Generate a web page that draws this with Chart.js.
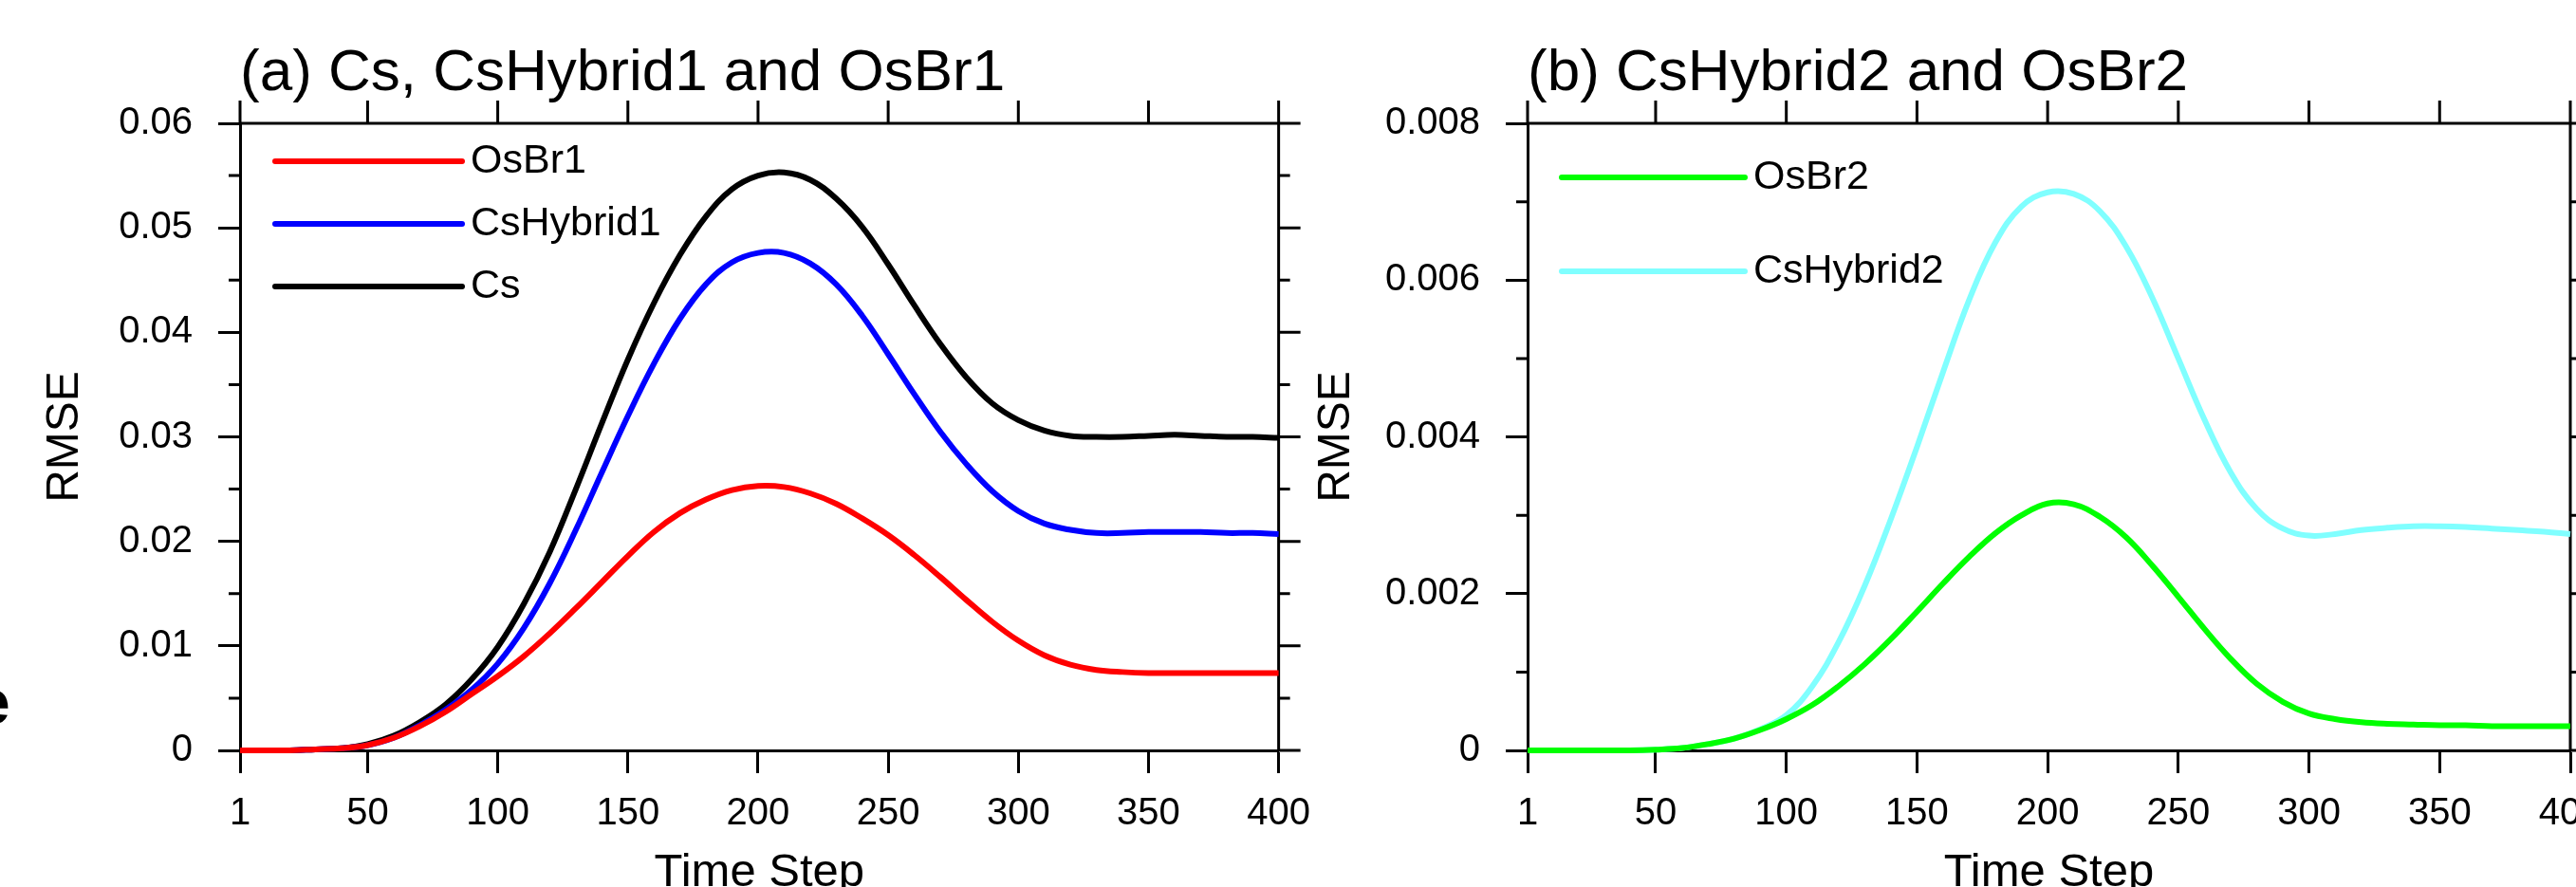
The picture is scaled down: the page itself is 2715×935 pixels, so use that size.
<!DOCTYPE html>
<html>
<head>
<meta charset="utf-8">
<script src="https://cdn.jsdelivr.net/npm/chart.js@4.4.1/dist/chart.umd.min.js"></script>
<style>
  html, body { margin: 0; padding: 0; background: #fff; overflow: hidden; width: 2715px; height: 935px; }
  .panel { position: absolute; top: 0; height: 1000px; }
  #panelA { left: 0; width: 1400px; }
  #panelB { left: 1360px; width: 1440px; }
  #cutGlyph { position: absolute; left: -26px; top: 707px; font: bold 66px 'Liberation Sans', Arial, sans-serif; line-height: 66px; }
</style>
</head>
<body>
<div id="cutGlyph">e</div>
<div class="panel" id="panelA"><canvas id="chartA"></canvas></div>
<div class="panel" id="panelB"><canvas id="chartB"></canvas></div>
<script>
// time axis samples (every 10 steps)
const timeSteps = [1, 10, 20, 30, 40, 50, 60, 70, 80, 90, 100, 110, 120, 130, 140, 150, 160, 170, 180, 190, 200,
  210, 220, 230, 240, 250, 260, 270, 280, 290, 300, 310, 320, 330, 340, 350, 360, 370, 380, 390, 400];

// panel (a)
const osBr1 = [0, 0, 0, 0.0001, 0.0002, 0.0005, 0.0012, 0.0023, 0.0037, 0.0054, 0.0071, 0.0090, 0.0112, 0.0136, 0.0161,
  0.0186, 0.0209, 0.0227, 0.0240, 0.0249, 0.0253, 0.0252, 0.0246, 0.0236, 0.0222, 0.0206, 0.0187, 0.0166, 0.0144,
  0.0123, 0.0105, 0.0091, 0.0082, 0.0077, 0.0075, 0.0074, 0.0074, 0.0074, 0.0074, 0.0074, 0.0074];
const csHybrid1 = [0, 0, 0, 0.0001, 0.0002, 0.0005, 0.0012, 0.0024, 0.0039, 0.0058, 0.0083, 0.0117, 0.0160, 0.0211,
  0.0266, 0.0320, 0.0370, 0.0413, 0.0446, 0.0467, 0.0476, 0.0476, 0.0466, 0.0446, 0.0416, 0.0379, 0.0341, 0.0305,
  0.0274, 0.0248, 0.0229, 0.0217, 0.0211, 0.0208, 0.0208, 0.0209, 0.0209, 0.0209, 0.0208, 0.0208, 0.0207];
const cs = [0, 0, 0, 0.0001, 0.0002, 0.0006, 0.0014, 0.0027, 0.0044, 0.0068, 0.0099, 0.0140, 0.0190, 0.0250, 0.0313,
  0.0374, 0.0428, 0.0474, 0.0511, 0.0537, 0.0550, 0.0553, 0.0546, 0.0528, 0.0501, 0.0465, 0.0426, 0.0389, 0.0357,
  0.0332, 0.0316, 0.0306, 0.0301, 0.0300, 0.0300, 0.0301, 0.0302, 0.0301, 0.0300, 0.0300, 0.0299];

// panel (b)
const osBr2 = [0, 0, 0, 0, 0, 0.00001, 0.00003, 0.00008, 0.00015, 0.00026, 0.00040, 0.00058, 0.00082, 0.00110, 0.00142,
  0.00177, 0.00213, 0.00247, 0.00277, 0.00300, 0.00315, 0.00314, 0.00298, 0.00272, 0.00236, 0.00196, 0.00155,
  0.00117, 0.00085, 0.00062, 0.00047, 0.00040, 0.00036, 0.00034, 0.00033, 0.00032, 0.00032, 0.00031, 0.00031,
  0.00031, 0.00031];
const csHybrid2 = [0, 0, 0, 0, 0, 0.00001, 0.00003, 0.00008, 0.00015, 0.00027, 0.00045, 0.00082, 0.00138, 0.00210,
  0.00295, 0.00387, 0.00483, 0.00575, 0.00648, 0.00694, 0.00712, 0.00710, 0.00688, 0.00643, 0.00578, 0.00500,
  0.00422, 0.00355, 0.00308, 0.00283, 0.00274, 0.00276, 0.00281, 0.00284, 0.00286, 0.00286, 0.00285, 0.00283,
  0.00281, 0.00279, 0.00276];

// tick labels
const xTickValues = [1, 50, 100, 150, 200, 250, 300, 350, 400];
const yTickValuesA = [0, 0.01, 0.02, 0.03, 0.04, 0.05, 0.06];
const yTickValuesB = [0, 0.002, 0.004, 0.006, 0.008];

Chart.defaults.font.family = "'Liberation Sans', Arial, sans-serif";
Chart.defaults.color = '#000';

// top / right frame, mirrored ticks and minor ticks
const frameTicks = {
  id: 'frameTicks',
  beforeDatasetsDraw(chart) {
    const { ctx, chartArea: a, scales } = chart;
    const xs = scales.x, ys = scales.y;
    const seg = (x1, y1, x2, y2) => { ctx.moveTo(x1, y1); ctx.lineTo(x2, y2); };
    ctx.save();
    ctx.strokeStyle = '#000';
    ctx.lineWidth = 3;
    ctx.beginPath();
    seg(a.left, a.top, a.right + 1.5, a.top);
    seg(a.right, a.top, a.right, a.bottom);
    xs.ticks.forEach(t => {
      const p = xs.getPixelForValue(t.value);
      seg(p, a.top, p, a.top - 24);
    });
    ys.ticks.forEach(t => {
      const p = ys.getPixelForValue(t.value);
      seg(a.right, p, a.right + 23, p);
    });
    for (let i = 0; i < ys.ticks.length - 1; i++) {
      const p = ys.getPixelForValue((ys.ticks[i].value + ys.ticks[i + 1].value) / 2);
      seg(a.left - 12, p, a.left, p);
      seg(a.right, p, a.right + 12, p);
    }
    ctx.stroke();
    ctx.restore();
  }
};

const panelTitle = {
  id: 'panelTitle',
  afterDraw(chart, args, opts) {
    const { ctx, chartArea: a } = chart;
    ctx.save();
    ctx.font = "62px 'Liberation Sans', Arial, sans-serif";
    ctx.fillStyle = '#000';
    ctx.textAlign = 'left';
    ctx.textBaseline = 'alphabetic';
    ctx.fillText(opts.text, a.left, a.top - 35);
    ctx.restore();
  }
};

// NCL-style legend: line sample followed by its label, inside the plot
const lineLegend = {
  id: 'lineLegend',
  afterDatasetsDraw(chart, args, opts) {
    const { ctx, chartArea: a } = chart;
    ctx.save();
    ctx.font = "43px 'Liberation Sans', Arial, sans-serif";
    ctx.textBaseline = 'middle';
    chart.data.datasets.forEach((ds, i) => {
      const y = a.top + opts.y0 + i * opts.dy;
      ctx.strokeStyle = ds.borderColor;
      ctx.lineWidth = 6;
      ctx.lineCap = 'round';
      ctx.beginPath();
      ctx.moveTo(a.left + opts.x0, y);
      ctx.lineTo(a.left + opts.x1, y);
      ctx.stroke();
      ctx.fillStyle = '#000';
      ctx.fillText(ds.label, a.left + opts.x1 + 9, y);
    });
    ctx.restore();
  }
};

function buildChart(canvasId, cfg) {
  const datasets = cfg.series.map(s => ({
    label: s.label,
    data: timeSteps.map((t, i) => ({ x: t, y: s.values[i] })),
    borderColor: s.color,
    borderWidth: 6,
    pointRadius: 0,
    tension: 0.4,
    clip: false
  }));

  return new Chart(document.getElementById(canvasId), {
    type: 'line',
    data: { datasets: datasets },
    options: {
      responsive: true,
      maintainAspectRatio: false,
      animation: false,
      layout: { padding: { top: 130, left: 0, right: cfg.padRight, bottom: 0 } },
      plugins: {
        legend: { display: false },
        tooltip: { enabled: false },
        panelTitle: { text: cfg.title },
        lineLegend: cfg.legend
      },
      scales: {
        x: {
          type: 'linear',
          min: 1,
          max: 400,
          afterBuildTicks: (scale) => { scale.ticks = xTickValues.map(v => ({ value: v })); },
          afterFit: (scale) => { scale.height = 209; },
          grid: { drawOnChartArea: false, tickLength: 24, tickWidth: 3, tickColor: '#000', color: '#000' },
          border: { color: '#000', width: 3 },
          ticks: { font: { size: 40 }, padding: 19, autoSkip: false, maxRotation: 0 },
          title: { display: true, text: 'Time Step', font: { size: 49 }, padding: { top: 0, bottom: 50 } }
        },
        y: {
          min: 0,
          max: cfg.yTicks[cfg.yTicks.length - 1],
          afterBuildTicks: (scale) => { scale.ticks = cfg.yTicks.map(v => ({ value: v })); },
          afterFit: (scale) => { scale.width = cfg.yAxisWidth; },
          grid: { drawOnChartArea: false, tickLength: 23, tickWidth: 3, tickColor: '#000', color: '#000' },
          border: { color: '#000', width: 3 },
          ticks: { font: { size: 40 }, padding: 27, callback: (v) => String(v) },
          title: { display: true, text: 'RMSE', font: { size: 48 }, padding: { top: cfg.yTitlePad, bottom: 0 } }
        }
      }
    },
    plugins: [frameTicks, panelTitle, lineLegend]
  });
}

buildChart('chartA', {
  title: '(a) Cs, CsHybrid1 and OsBr1',
  series: [
    { label: 'OsBr1', values: osBr1, color: '#ff0000' },
    { label: 'CsHybrid1', values: csHybrid1, color: '#0000ff' },
    { label: 'Cs', values: cs, color: '#000000' }
  ],
  yTicks: yTickValuesA,
  yAxisWidth: 253,
  padRight: 48,
  yTitlePad: 40,
  legend: { x0: 37, x1: 234, y0: 40, dy: 66 }
});

buildChart('chartB', {
  title: '(b) CsHybrid2 and OsBr2',
  series: [
    { label: 'OsBr2', values: osBr2, color: '#00ff00' },
    { label: 'CsHybrid2', values: csHybrid2, color: '#80ffff' }
  ],
  yTicks: yTickValuesB,
  yAxisWidth: 250,
  padRight: 91,
  yTitlePad: 20,
  legend: { x0: 36, x1: 229, y0: 57, dy: 99 }
});
</script>
</body>
</html>
